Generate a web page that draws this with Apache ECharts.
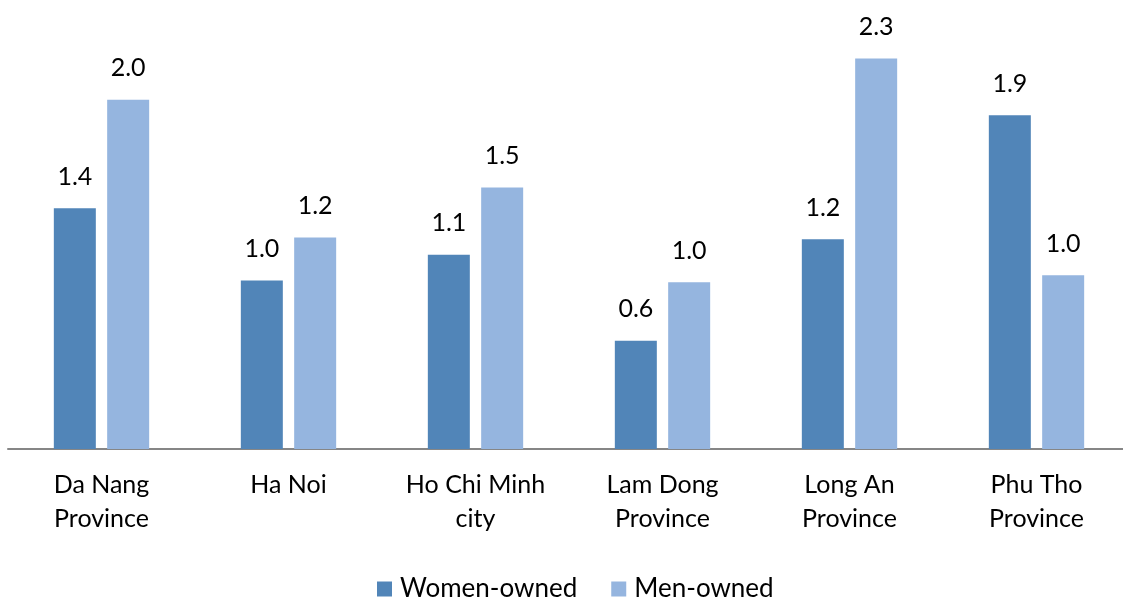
<!DOCTYPE html>
<html>
<head>
<meta charset="utf-8">
<script src="https://cdn.jsdelivr.net/npm/echarts@6/dist/echarts.min.js"></script>
<style>html,body{margin:0;padding:0;background:#fff;}#chart{width:1123px;height:602px;}</style>
</head>
<body>
<div id="chart"></div>
<script>
const categories = ['Da Nang\nProvince', 'Ha Noi', 'Ho Chi Minh\ncity', 'Lam Dong\nProvince', 'Long An\nProvince', 'Phu Tho\nProvince'];
const womenOwned = [1.40, 0.98, 1.13, 0.63, 1.22, 1.94];
const menOwned = [2.03, 1.23, 1.52, 0.97, 2.27, 1.01];
const seriesNames = ['Women-owned', 'Men-owned'];

const FONT = 'Lato';
const chart = echarts.init(document.getElementById('chart'));
const labelOpt = {
  show: true, position: 'top', distance: 19,
  fontFamily: FONT, fontSize: 25, color: '#000',
  formatter: p => p.value.toFixed(1)
};
chart.setOption({
  animation: false,
  grid: { left: 8, width: 1122, top: 19, bottom: 153, outerBoundsMode: 'none', containLabel: false },
  legend: {
    data: seriesNames, top: 571, left: 372,
    itemWidth: 15, itemHeight: 15, itemGap: 34,
    icon: 'rect',
    textStyle: { fontFamily: FONT, fontSize: 26, color: '#000', padding: [0, 0, 0, 3] }
  },
  xAxis: {
    type: 'category', data: categories,
    axisLine: { lineStyle: { color: '#868686', width: 2 } },
    axisTick: { show: false },
    axisLabel: { fontFamily: FONT, fontSize: 25, color: '#000', lineHeight: 34, margin: 19, interval: 0 }
  },
  yAxis: { type: 'value', min: 0, max: 2.5, show: false, splitLine: { show: false } },
  series: [
    { name: seriesNames[0], type: 'bar', data: womenOwned, barWidth: 42, barGap: '27%',
      itemStyle: { color: '#5185B8' }, label: labelOpt },
    { name: seriesNames[1], type: 'bar', data: menOwned, barWidth: 42,
      itemStyle: { color: '#95B5DF' }, label: labelOpt }
  ]
});
</script>
</body>
</html>
